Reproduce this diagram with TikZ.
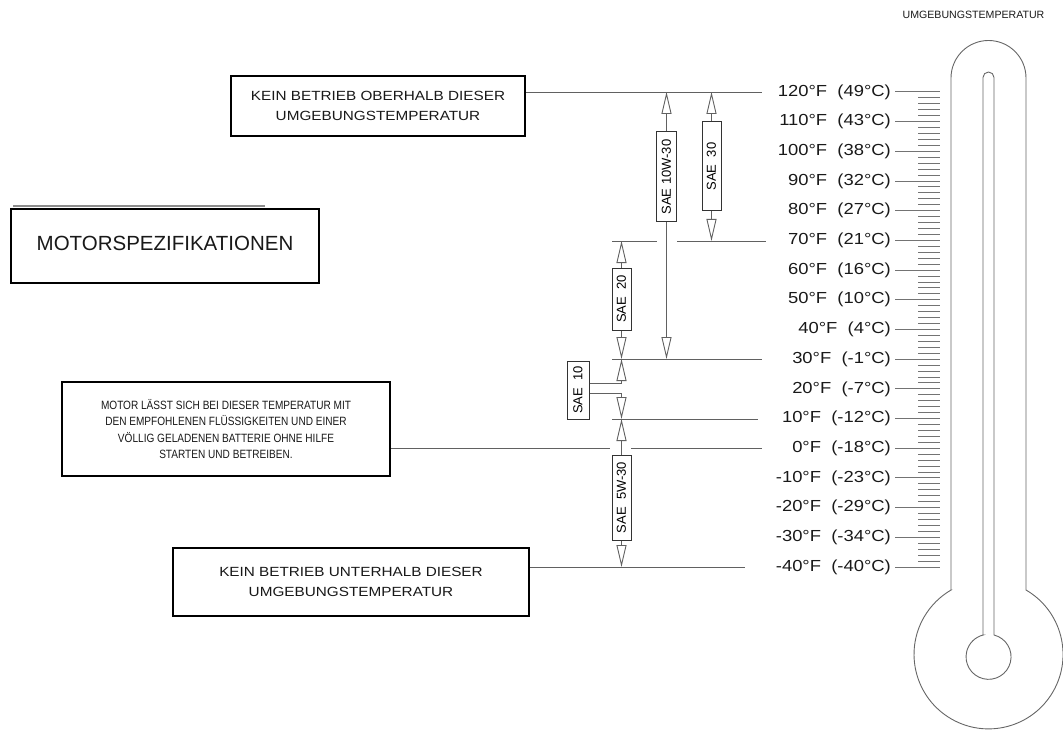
\documentclass[tikz,border=0pt]{standalone}
\usepackage{fontspec}
\setmainfont{Liberation Sans}
\newfontfamily\wf[FakeStretch=1.15]{Liberation Sans}
\newfontfamily\nf[FakeStretch=0.84]{Liberation Sans}
\usetikzlibrary{arrows.meta,calc}
\begin{document}
\begin{tikzpicture}[x=1pt,y=-1pt,
  gline/.style={draw=black!62,line width=0.9pt},
  tickline/.style={draw=black!55,line width=1pt},
  boxw/.style={draw=black,line width=2pt,fill=white,align=center,inner sep=0pt,text=black!90},
  saebox/.style={draw=black!80,line width=1pt,fill=white,rotate=90,inner sep=0pt,font=\fontsize{13}{13}\selectfont,minimum height=19pt},
  sarr/.style={draw=black!62,line width=0.9pt,-{Triangle[open,length=22pt,width=10pt]}},
  templab/.style={anchor=east,inner sep=0pt,font=\wf\fontsize{16}{16}\selectfont,text=black!90},
  thermo/.style={draw=black!60,line width=0.9pt}
]
\useasboundingbox (0,0) rectangle (1063,730);

% title
\node[font=\fontsize{10.6}{11}\selectfont,text=black!90] (title) at (973.5,15) {UMGEBUNGSTEMPERATUR};

% thermometer
\draw[thermo] (951,590) -- (951,78) arc[start angle=180,end angle=0,radius=37.5pt] -- (1026,590) arc[start angle=59.8,end angle=-239.8,radius=74.5pt] -- cycle;
\draw[thermo] (983,635) -- (983,77.5) arc[start angle=180,end angle=0,radius=5.5pt] -- (994,635) arc[start angle=76,end angle=-256,radius=22.5pt] -- cycle;

% minor ticks
\foreach \k in {0,...,80} \draw[tickline] (918,92+\k*5.9375) -- (940,92+\k*5.9375);

% temperature labels and major ticks
\foreach \T/\C/\n [count=\k from 0] in {120/49/a,110/43/b,100/38/c,90/32/d,80/27/e,70/21/f,60/16/g,50/10/h,40/4/i,30/-1/j,20/-7/k,10/-12/l,0/-18/m,-10/-23/n,-20/-29/o,-30/-34/p,-40/-40/q}{
  \node[templab] (t\n) at (891,92+\k*29.6875) {\T°F\ \ (\C°C)};
  \draw[tickline] ([xshift=4pt]t\n.east) -- (940,92+\k*29.6875);
}

% boxes
\node[boxw,minimum width=294pt,minimum height=60pt,font=\wf\fontsize{13.3}{20}\selectfont] (kob) at (378,106) {KEIN BETRIEB OBERHALB DIESER\\UMGEBUNGSTEMPERATUR};
\draw[draw=black!45,line width=2pt] (13,206) -- (265,206);
\node[boxw,minimum width=308pt,minimum height=74pt,text depth=5pt,font=\fontsize{20.5}{24}\selectfont] (ms) at (165,246) {MOTORSPEZIFIKATIONEN};
\node[boxw,minimum width=328pt,minimum height=94pt,font=\nf\fontsize{12}{16.3}\selectfont] (mid) at (226,429) {MOTOR LÄSST SICH BEI DIESER TEMPERATUR MIT\\DEN EMPFOHLENEN FLÜSSIGKEITEN UND EINER\\VÖLLIG GELADENEN BATTERIE OHNE HILFE\\STARTEN UND BETREIBEN.};
\node[boxw,minimum width=356pt,minimum height=68pt,font=\wf\fontsize{13.3}{20}\selectfont] (bot) at (351,582) {KEIN BETRIEB UNTERHALB DIESER\\UMGEBUNGSTEMPERATUR};

% reference lines
\coordinate (e120) at (762,92);
\draw[gline] (kob.east |- e120) -- (e120);
\coordinate (l70a) at (612,241); \coordinate (l70b) at (657,241);
\coordinate (l70c) at (677,241); \coordinate (l70d) at (766,241);
\draw[gline] (l70a) -- (l70b);
\draw[gline] (l70c) -- (l70d);
\coordinate (l30a) at (612,359); \coordinate (l30b) at (762,359);
\draw[gline] (l30a) -- (l30b);
\coordinate (l10a) at (612,419); \coordinate (l10b) at (758,419);
\draw[gline] (l10a) -- (l10b);
\coordinate (l0a) at (610,448); \coordinate (l0b) at (631,448); \coordinate (l0c) at (762,448);
\draw[gline] (mid.east |- l0a) -- (l0a);
\draw[gline] (l0b) -- (l0c);
\coordinate (e40) at (745,567);
\draw[gline] (bot.east |- e40) -- (e40);

% SAE ranges
\coordinate (c1030t) at (666.5,92);  \coordinate (c1030b) at (666.5,359);
\coordinate (c30t) at (711.5,92);    \coordinate (c30b) at (711.5,241);
\coordinate (c20t) at (621.5,241);   \coordinate (c20b) at (621.5,359);
\coordinate (c10t) at (621.5,359);   \coordinate (c10b) at (621.5,419);
\coordinate (c530t) at (621.5,419);  \coordinate (c530b) at (621.5,567);

\node[saebox,minimum width=90pt,minimum height=20pt] (s1030) at (666.5,177) {SAE 10W-30};
\node[saebox,minimum width=89pt] (s30) at (711.5,166.5) {SAE\ \ 30};
\node[saebox,minimum width=62pt] (s20) at (621.5,299) {SAE\ \ 20};
\node[saebox,minimum width=58pt,minimum height=22pt] (s10) at (578,390) {SAE\ \ 10};
\node[saebox,minimum width=85pt] (s530) at (621.5,497.5) {SAE\ \ 5W-30};

\draw[sarr] (s1030.east) -- (c1030t);
\draw[sarr] (s1030.west) -- (c1030b);
\draw[sarr] (s30.east) -- (c30t);
\draw[sarr] (s30.west) -- (c30b);
\draw[sarr] (s20.east) -- (c20t);
\draw[sarr] (s20.west) -- (c20b);
\draw[sarr] ($(s10.south)+(0,-7)$) -| (c10t);
\draw[sarr] ($(s10.south)+(0,3)$) -| (c10b);
\draw[sarr] (s530.east) -- (c530t);
\draw[sarr] (s530.west) -- (c530b);
\end{tikzpicture}
\end{document}
